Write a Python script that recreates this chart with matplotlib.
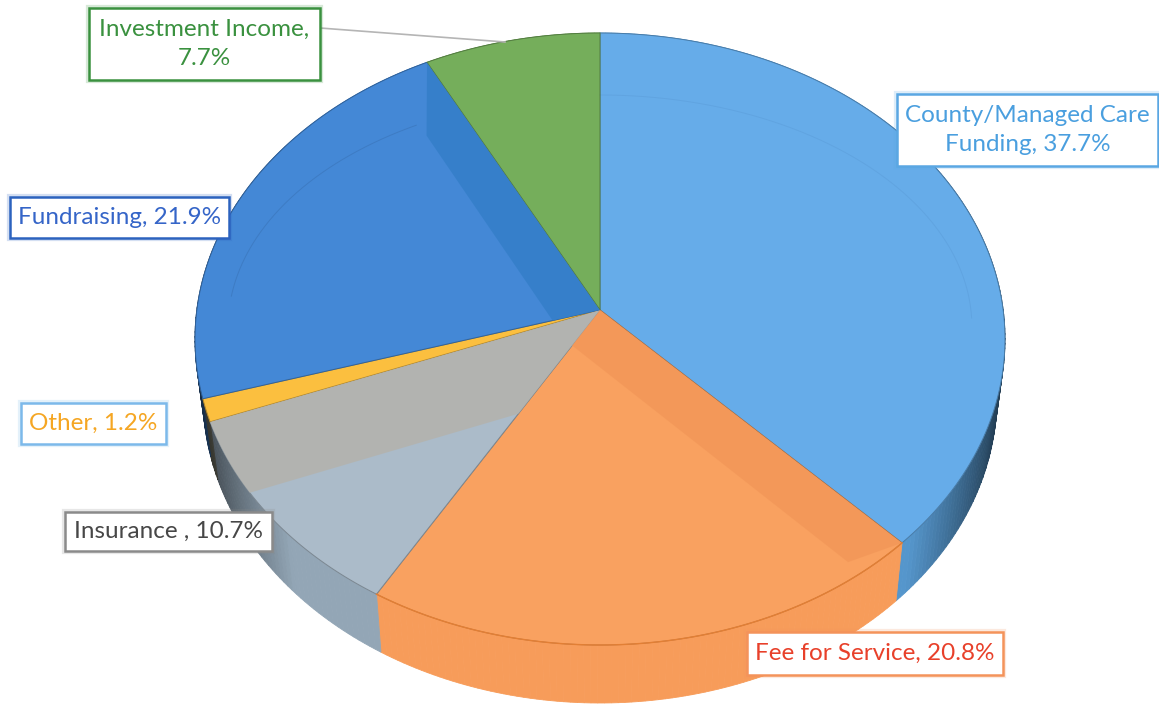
import numpy as np
import matplotlib
matplotlib.use('Agg')
import matplotlib.pyplot as plt
from matplotlib.patches import Polygon, Rectangle
from matplotlib.colors import to_rgb

plt.rcParams['font.family'] = ['Lato', 'DejaVu Sans']

# data, clockwise from 12 o'clock
names = ['County/Managed Care\nFunding', 'Fee for Service', 'Insurance ', 'Other', 'Fundraising', 'Investment Income']
shares = [37.7, 20.8, 10.7, 1.2, 21.9, 7.7]
label_seps = [', ', ', ', ', ', ', ', ', ', ',\n']

top_colors = ['#66ACE9', '#F9A160', '#ABBBC9', '#FBBF3F', '#4488D6', '#75AE5B']
side_colors = ['#5596CC', '#F79C5A', '#93A6B6', '#77786A', '#3C78BE', '#5F9548']
text_colors = ['#4A9FDF', '#E8402A', '#474747', '#F5A623', '#3565C8', '#3A913F']
box_colors = ['#5AA7E3', '#F4935A', '#8A8A8A', '#7CB9EA', '#2C62BE', '#3A913F']

# label boxes: left, top, right, bottom in pixels
boxes = [(897, 94, 1158, 166), (747, 632, 1003, 675), (65, 512, 272, 551),
         (21, 403, 166, 444), (10, 197, 229, 238), (89, 8, 320, 80)]

# pie geometry in pixels
cx, cy = 600, 339
rx, ry = 405, 306
tilt = -0.095  # perspective, moves the centre of the pie up
depth = 58
shrink = 0.98  # bottom face is a bit narrower


def project(u, v, bottom=False):
    u = np.asarray(u, dtype=float)
    v = np.asarray(v, dtype=float)
    w = 1 + tilt * v
    x = u * np.sqrt(1 - tilt ** 2) / w
    y = (v + tilt) / w
    if bottom:
        return np.column_stack([cx + rx * shrink * x, cy + depth + ry * y])
    return np.column_stack([cx + rx * x, cy + ry * y])


def rim(a, b, n=120, bottom=False):
    t = np.radians(np.linspace(a, b, n))
    return project(np.sin(t), -np.cos(t), bottom)


def strip(angle, d, side, t_in, t_out=1.0):
    # shaded band along a wedge edge, side=1 goes clockwise, side=-1 counter clockwise
    t = np.radians(angle)
    ux, uy = np.sin(t), -np.cos(t)
    nx, ny = side * np.cos(t), side * np.sin(t)
    us = [-0.3 * ux, t_out * ux, t_in * ux + d * nx, -0.3 * ux + d * nx]
    vs = [-0.3 * uy, t_out * uy, t_in * uy + d * ny, -0.3 * uy + d * ny]
    return project(us, vs)


fig = plt.figure(figsize=(11.59, 7.04), dpi=100)
ax = fig.add_axes([0, 0, 1, 1])
ax.set_xlim(0, 1159)
ax.set_ylim(704, 0)
ax.axis('off')

edges = np.concatenate([[0], np.cumsum(shares) * 3.6])

# side wall, a bit darker towards the ends of the visible part
for i in range(len(shares)):
    a = np.linspace(edges[i], edges[i + 1], int(shares[i] * 4) + 2)
    base = np.array(to_rgb(side_colors[i]))
    for a0, a1 in zip(a[:-1], a[1:]):
        s = abs(np.sin(np.radians((a0 + a1) / 2)))
        col = base * (1 - 0.65 * max(0, s - 0.72) / 0.28)
        pts = np.vstack([rim(a0, a1, 3), rim(a1, a0, 3, bottom=True)])
        ax.add_patch(Polygon(pts, fc=col, ec=col, lw=0.6, zorder=1))

# top face
wedges = []
for i in range(len(shares)):
    pts = np.vstack([project([0], [0]), rim(edges[i], edges[i + 1])])
    edge_col = np.array(to_rgb(top_colors[i])) * 0.72
    p = Polygon(pts, fc=top_colors[i], ec=edge_col, lw=0.7, joinstyle='round', zorder=2)
    ax.add_patch(p)
    wedges.append(p)

# darker bands on the top face
bands = [(1, strip(edges[1], 0.13, 1, 0.95), '#F39859'),
         (2, strip(edges[3], 0.24, -1, 1.1, 1.1), '#B3B3AE'),
         (4, strip(edges[5], 0.12, -1, 0.75), '#357FC9')]
for i, pts, col in bands:
    band = Polygon(pts, fc=col, ec='none', alpha=0.9, zorder=3)
    ax.add_patch(band)
    band.set_clip_path(wedges[i])

# faint inner ring of the bevel
t = np.radians(np.linspace(edges[4] + 20, edges[5] - 4, 200))
ring = project(0.92 * np.sin(t), -0.76 * np.cos(t))
ax.plot(ring[:, 0], ring[:, 1], color='#2F5F99', lw=0.7, alpha=0.3, zorder=3)
t = np.radians(np.linspace(0, 92, 200))
ring = project(0.92 * np.sin(t), -0.76 * np.cos(t))
ax.plot(ring[:, 0], ring[:, 1], color='#2F5F99', lw=0.7, alpha=0.1, zorder=3)

# thin rim line at the front of the orange slice
front = rim(edges[1], edges[2])
ax.plot(front[:, 0], front[:, 1], color='#E27F35', lw=1.0, zorder=3)

# leader line
ax.plot([320, 505], [28, 42], color='#B5B5B5', lw=1.2, zorder=4)

# labels
for name, share, sep, tc, bc, (x0, y0, x1, y1) in zip(names, shares, label_seps, text_colors, box_colors, boxes):
    ax.add_patch(Rectangle((x0, y0), x1 - x0, y1 - y0, fc='white', ec=bc, lw=4.5, alpha=0.2, zorder=5))
    ax.add_patch(Rectangle((x0, y0), x1 - x0, y1 - y0, fc='white', ec=bc, lw=1.8, zorder=6))
    ax.text((x0 + x1) / 2, (y0 + y1) / 2, name + sep + str(share) + '%', color=tc, fontsize=17.5,
            ha='center', va='center', linespacing=1.45, zorder=7)

fig.savefig('out.png', dpi=100)
